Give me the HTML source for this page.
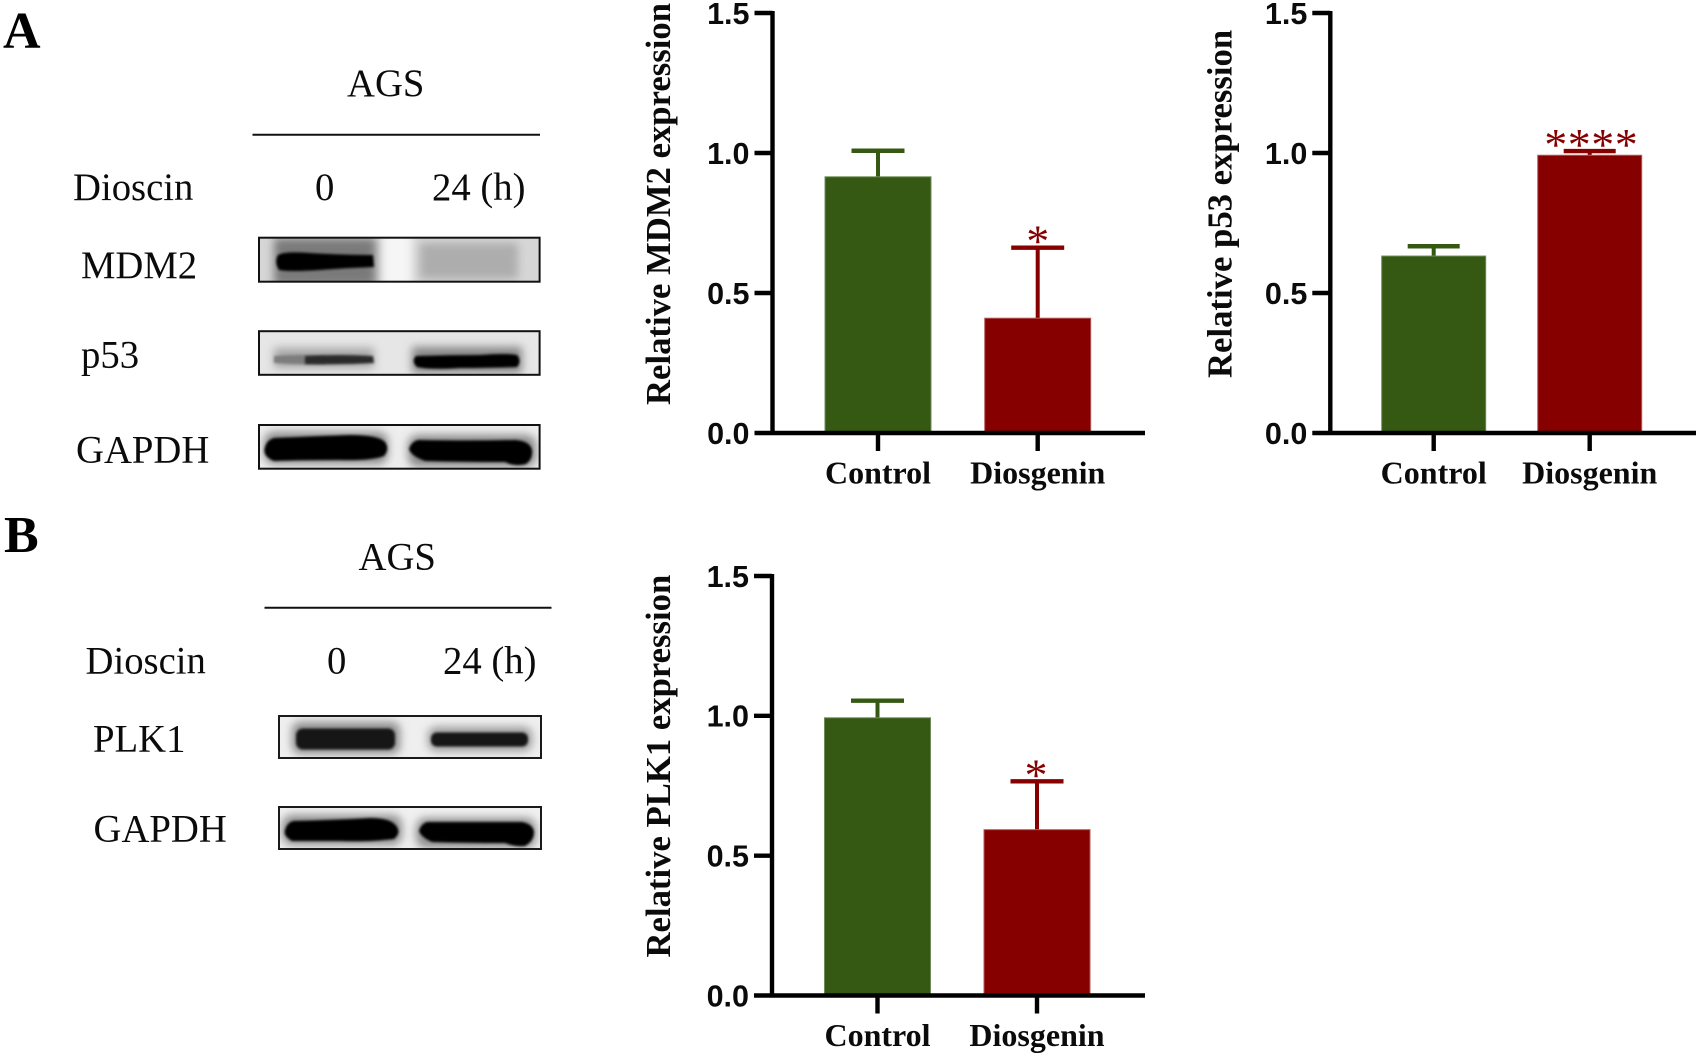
<!DOCTYPE html>
<html lang="en">
<head>
<meta charset="utf-8">
<title>MDM2, p53 and PLK1 western blots and expression</title>
<style>
html,body{margin:0;padding:0;background:#fff;}
body{width:1699px;height:1055px;overflow:hidden;}
svg{display:block;}
.serif{font-family:"Liberation Serif","Times New Roman",serif;fill:#0b0b0b;}
.lab{font-size:38.7px;}
.panel{font-size:52px;font-weight:bold;fill:#000;}
</style>
</head>
<body>
<svg id="figure" xmlns="http://www.w3.org/2000/svg" width="1699" height="1055" viewBox="0 0 1699 1055">
<defs>
<filter id="b1" x="-20%" y="-60%" width="140%" height="220%"><feGaussianBlur stdDeviation="1.4"/></filter>
<filter id="b2" x="-30%" y="-100%" width="160%" height="300%"><feGaussianBlur stdDeviation="4.5"/></filter>
<clipPath id="c1"><rect x="259" y="237.5" width="281" height="44"/></clipPath>
<clipPath id="c2"><rect x="259" y="331" width="281" height="44"/></clipPath>
<clipPath id="c3"><rect x="259" y="425" width="281" height="44"/></clipPath>
<clipPath id="c4"><rect x="279" y="716" width="262" height="42"/></clipPath>
<clipPath id="c5"><rect x="279" y="807" width="262" height="42"/></clipPath>
</defs>

<text class="serif panel" x="3" y="48">A</text>
<text class="serif lab" x="347" y="96">AGS</text>
<line x1="252.5" x2="540" y1="134.7" y2="134.7" stroke="#111" stroke-width="2"/>
<text class="serif lab" x="73" y="200">Dioscin</text>
<text class="serif lab" x="315" y="200">0</text>
<text class="serif lab" x="432" y="200">24 (h)</text>
<text class="serif lab" x="81" y="278">MDM2</text>
<text class="serif lab" x="81" y="367.5">p53</text>
<text class="serif lab" x="76" y="462.5">GAPDH</text>

<g>
<g clip-path="url(#c1)">
<rect x="259" y="237" width="281" height="45" fill="#d6d6d6"/>
<rect x="382" y="230" width="30" height="58" fill="#f6f6f6" filter="url(#b2)"/>
<rect x="274" y="238" width="102" height="48" fill="#7a7a7a" filter="url(#b2)"/>
<rect x="420" y="243" width="98" height="36" fill="#adadad" filter="url(#b2)"/>
<path d="M278 255Q285 251 310 253Q345 255 373 255L374 267Q345 268 320 270Q290 272 279 270Q274 262 278 255Z" fill="#000" filter="url(#b1)"/>
</g>
<rect x="259" y="237.7" width="280.6" height="44" fill="none" stroke="#111" stroke-width="2"/>
</g>

<g>
<g clip-path="url(#c2)">
<rect x="259" y="331" width="281" height="44" fill="#e6e6e6"/>
<rect x="274" y="348" width="100" height="20" fill="#a6a6a6" filter="url(#b2)"/>
<rect x="412" y="347" width="110" height="26" fill="#858585" filter="url(#b2)"/>
<path d="M274 356Q300 354 325 356L325 364Q300 365 274 363Z" fill="#7d7d7d" filter="url(#b1)"/>
<path d="M305 356Q340 354 373 356L374 363Q340 365 305 364Z" fill="#2a2a2a" filter="url(#b1)"/>
<path d="M416 356Q450 355 480 355Q505 353 517 355Q522 361 517 367Q490 368 460 368Q430 370 417 367Q411 361 416 356Z" fill="#030303" filter="url(#b1)"/>
</g>
<rect x="259" y="331.2" width="280.6" height="43.6" fill="none" stroke="#111" stroke-width="2"/>
</g>

<g>
<g clip-path="url(#c3)">
<rect x="259" y="425" width="281" height="44" fill="#eeeeee"/>
<rect x="264" y="432" width="124" height="32" rx="10" fill="#888" filter="url(#b2)"/>
<rect x="408" y="435" width="128" height="32" rx="10" fill="#888" filter="url(#b2)"/>
<path d="M274 438Q320 436 350 435Q378 435 385 442Q390 449 384 456Q370 461 340 460Q300 460 274 461Q262 456 265 447Q267 440 274 438Z" fill="#000" filter="url(#b1)"/>
<path d="M418 440Q470 441 515 440Q530 441 532 450Q533 459 526 464Q515 467 505 462Q460 462 425 461Q411 456 409 449Q411 442 418 440Z" fill="#000" filter="url(#b1)"/>
</g>
<rect x="259" y="425" width="280.6" height="43.7" fill="none" stroke="#111" stroke-width="2"/>
</g>

<text class="serif panel" x="4" y="552">B</text>
<text class="serif lab" x="358.5" y="569.5">AGS</text>
<line x1="264.5" x2="551.5" y1="607.7" y2="607.7" stroke="#111" stroke-width="2"/>
<text class="serif lab" x="85.5" y="673.5">Dioscin</text>
<text class="serif lab" x="327" y="673.5">0</text>
<text class="serif lab" x="443" y="673.5">24 (h)</text>
<text class="serif lab" x="93" y="751.7">PLK1</text>
<text class="serif lab" x="93.5" y="841.7">GAPDH</text>

<g>
<g clip-path="url(#c4)">
<rect x="279" y="716" width="262" height="42" fill="#efefef"/>
<rect x="292" y="722" width="108" height="32" rx="8" fill="#8c8c8c" filter="url(#b2)"/>
<rect x="428" y="727" width="104" height="24" rx="8" fill="#9a9a9a" filter="url(#b2)"/>
<rect x="296" y="728.5" width="99" height="21" rx="7" fill="#191919" filter="url(#b1)"/>
<rect x="431" y="732.5" width="97" height="14" rx="6" fill="#191919" filter="url(#b1)"/>
</g>
<rect x="279" y="716" width="262" height="42" fill="none" stroke="#1a1a1a" stroke-width="2"/>
</g>

<g>
<g clip-path="url(#c5)">
<rect x="279" y="807" width="262" height="42" fill="#f0f0f0"/>
<rect x="282" y="815" width="120" height="30" rx="10" fill="#8c8c8c" filter="url(#b2)"/>
<rect x="416" y="818" width="120" height="30" rx="10" fill="#8c8c8c" filter="url(#b2)"/>
<path d="M293 821Q335 820 370 818Q392 818 397 827Q401 833 394 839Q370 842 340 841Q310 841 292 841Q283 836 285 830Q287 823 293 821Z" fill="#000" filter="url(#b1)"/>
<path d="M427 822Q480 822 522 822Q533 824 534 832Q534 841 525 846Q515 847 505 843Q465 843 432 842Q421 837 419 831Q421 824 427 822Z" fill="#000" filter="url(#b1)"/>
</g>
<rect x="279" y="807" width="262" height="42" fill="none" stroke="#1a1a1a" stroke-width="2"/>
</g>
</svg>

<script>
const categories = ['Control', 'Diosgenin'];
const yTickValues = [0, 0.5, 1, 1.5];
const yMax = 1.5;
const mdm2Means = [0.915, 0.41];
const mdm2ErrorTops = [1.008, 0.662];
const mdm2Significance = ['', '*'];
const p53Means = [0.632, 0.992];
const p53ErrorTops = [0.667, 1.007];
const p53Significance = ['', '****'];
const plk1Means = [0.993, 0.593];
const plk1ErrorTops = [1.054, 0.766];
const plk1Significance = ['', '*'];
const barColors = ['#355912', '#870000'];
const barEdges = ['#6f8c58', '#b35c5c'];

const svg = document.getElementById('figure');
const NS = 'http://www.w3.org/2000/svg';

function make(tag, attrs, parent) {
  const el = document.createElementNS(NS, tag);
  for (const k in attrs) el.setAttribute(k, attrs[k]);
  parent.appendChild(el);
  return el;
}

function drawChart(cfg, means, errorTops, significance) {
  const yScale = v => cfg.y0 - (v / yMax) * (cfg.y0 - cfg.yTop);
  const xScale = i => cfg.x0 + i * cfg.step;

  const g = make('g', {}, svg);
  
  

  const title = make('text', {
    x: 0, y: 0,
    transform: 'translate(' + cfg.titleX + ',' + cfg.titleY + ') rotate(-90)',
    'font-family': '"Liberation Serif","Times New Roman",serif',
    'font-weight': 'bold', 'font-size': 34.7, fill: '#0b0b0b'
  }, g);
  title.textContent = cfg.title;
  
  

  means.forEach((m, i) => {
    const cx = xScale(i);
    const stem = make('line', {
      x1: cx, x2: cx, y1: yScale(m), y2: yScale(errorTops[i]),
      stroke: barColors[i], 'stroke-width': 4
    }, g);
    
    

    const cap = make('line', {
      x1: cx - cfg.cap, x2: cx + cfg.cap, y1: yScale(errorTops[i]), y2: yScale(errorTops[i]),
      stroke: barColors[i], 'stroke-width': 4.4
    }, g);
    
    

    const bar = make('rect', {
      x: cx - cfg.barW / 2, y: yScale(m), width: cfg.barW, height: cfg.y0 - yScale(m),
      fill: barColors[i], stroke: barEdges[i], 'stroke-width': 1
    }, g);
    
    

    if (significance[i]) {
      const star = make('text', {
        x: cx + cfg.starDx, y: yScale(errorTops[i]) + 9, 'text-anchor': 'middle',
        'font-family': '"Liberation Serif","Times New Roman",serif',
        'font-size': 46, 'letter-spacing': significance[i].length > 1 ? 0.5 : 0, fill: '#870000'
      }, g);
      star.textContent = significance[i];
      
      
    }

    const tick = make('line', {
      x1: cx, x2: cx, y1: cfg.y0, y2: cfg.y0 + 18, stroke: '#000', 'stroke-width': 4.4
    }, g);
    
    

    const lab = make('text', {
      x: cx, y: cfg.y0 + 50.5, 'text-anchor': 'middle',
      'font-family': '"Liberation Serif","Times New Roman",serif',
      'font-weight': 'bold', 'font-size': 32, fill: '#0b0b0b'
    }, g);
    lab.textContent = categories[i];
    
    
  });

  const yAxis = make('line', {
    x1: cfg.axisX, x2: cfg.axisX, y1: yScale(yMax) - 2, y2: cfg.y0 + 2, stroke: '#000', 'stroke-width': 4.4
  }, g);
  
  

  const xAxis = make('line', {
    x1: cfg.axisX, x2: cfg.right, y1: cfg.y0, y2: cfg.y0, stroke: '#000', 'stroke-width': 4.4
  }, g);
  
  

  yTickValues.forEach(v => {
    const t = make('line', {
      x1: cfg.axisX - 18, x2: cfg.axisX, y1: yScale(v), y2: yScale(v), stroke: '#000', 'stroke-width': 4.4
    }, g);
    
    

    const l = make('text', {
      x: cfg.axisX - 23, y: yScale(v) + 10.8, 'text-anchor': 'end',
      'font-family': '"Liberation Sans",Arial,sans-serif',
      'font-weight': 'bold', 'font-size': 30.5, fill: '#0b0b0b'
    }, g);
    l.textContent = v.toFixed(1);
    
    
  });
}

drawChart({name: 'mdm2', title: 'Relative MDM2 expression', titleX: 670, titleY: 405,
  axisX: 772.5, right: 1145, y0: 433, yTop: 13, x0: 878, step: 159.7, barW: 106, cap: 26.5, starDx: 0},
  mdm2Means, mdm2ErrorTops, mdm2Significance);

drawChart({name: 'p53', title: 'Relative p53 expression', titleX: 1231.7, titleY: 378,
  axisX: 1330.3, right: 1696, y0: 433, yTop: 13, x0: 1433.7, step: 156, barW: 104, cap: 26, starDx: 1.5},
  p53Means, p53ErrorTops, p53Significance);

drawChart({name: 'plk1', title: 'Relative PLK1 expression', titleX: 670, titleY: 957.5,
  axisX: 772, right: 1145, y0: 995.5, yTop: 576, x0: 877.5, step: 159.5, barW: 106, cap: 26.5, starDx: -1},
  plk1Means, plk1ErrorTops, plk1Significance);
</script>
</body>
</html>
